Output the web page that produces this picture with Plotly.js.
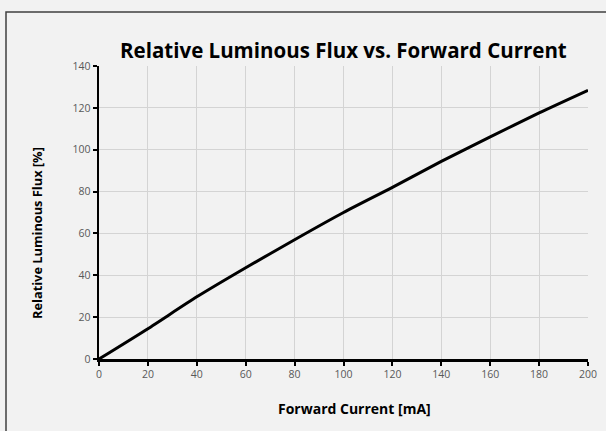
<!DOCTYPE html>
<html>
<head>
<meta charset="utf-8">
<script src="https://cdn.plot.ly/plotly-3.0.1.min.js"></script>
<style>html,body{margin:0;padding:0;background:#f2f2f2;}#chart{width:606px;height:431px;}</style>
</head>
<body>
<div id="chart"></div>
<script>
const forwardCurrent = [0, 20, 40, 60, 80, 100, 120, 140, 160, 180, 200];
const relativeFlux = [0, 14.5, 29.7, 43.6, 57.0, 70.0, 82.0, 94.4, 106.1, 117.6, 128.4];
const xTicks = [0, 20, 40, 60, 80, 100, 120, 140, 160, 180, 200];
const yTicks = [0, 20, 40, 60, 80, 100, 120, 140];
const chartTitle = "Relative Luminous Flux vs. Forward Current";
const xTitle = "Forward Current [mA]";
const yTitle = "Relative Luminous Flux [%]";

const tickFont = {family: "Open Sans, sans-serif", size: 10.5, color: "#595959"};
const titleFamily = "Open Sans, sans-serif";

Plotly.newPlot("chart", [{
  x: forwardCurrent,
  y: relativeFlux,
  type: "scatter",
  mode: "lines",
  line: {color: "#000000", width: 3, shape: "spline", smoothing: 0.6},
  hoverinfo: "skip"
}], {
  width: 606, height: 431,
  paper_bgcolor: "#f2f2f2",
  plot_bgcolor: "#f2f2f2",
  margin: {l: 99, r: 18, t: 66, b: 72},
  showlegend: false,
  title: {text: "<b>" + chartTitle + "</b>", font: {family: titleFamily, size: 20.5, color: "#000"},
          x: 0.5667, xanchor: "center", y: 0.882, yanchor: "middle"},
  xaxis: {
    range: [0, 200], tickvals: xTicks, ticktext: xTicks.map(String),
    showgrid: true, gridcolor: "#d4d4d4", gridwidth: 1,
    showline: true, linecolor: "#000", linewidth: 2.5,
    ticks: "outside", ticklen: 4, tickwidth: 2, tickcolor: "#000",
    tickfont: tickFont, zeroline: false, fixedrange: true
  },
  yaxis: {
    range: [0, 140], tickvals: yTicks, ticktext: yTicks.map(String),
    showgrid: true, gridcolor: "#d4d4d4", gridwidth: 1,
    showline: true, linecolor: "#000", linewidth: 2.5,
    ticks: "outside", ticklen: 4, tickwidth: 2, tickcolor: "#000",
    tickfont: tickFont, zeroline: false, fixedrange: true
  },
  annotations: [
    {text: "<b>" + xTitle + "</b>", xref: "paper", yref: "paper",
     x: (354 - 99) / 489, y: (359 - 408) / 293, xanchor: "center", yanchor: "middle",
     showarrow: false, font: {family: titleFamily, size: 14, color: "#000"}},
    {text: "<b>" + yTitle + "</b>", xref: "paper", yref: "paper", textangle: -90,
     x: (37 - 99) / 489, y: (359 - 233) / 293, xanchor: "center", yanchor: "middle",
     showarrow: false, font: {family: titleFamily, size: 12.8, color: "#000"}}
  ],
  shapes: [
    {type: "rect", xref: "paper", yref: "paper",
     x0: (6 - 99) / 489, x1: (615 - 99) / 489, y0: (359 - 440) / 293, y1: (359 - 12) / 293,
     line: {color: "#404040", width: 1.5}, fillcolor: "rgba(0,0,0,0)", layer: "below"}
  ]
}, {staticPlot: true, displayModeBar: false});
</script>
</body>
</html>
